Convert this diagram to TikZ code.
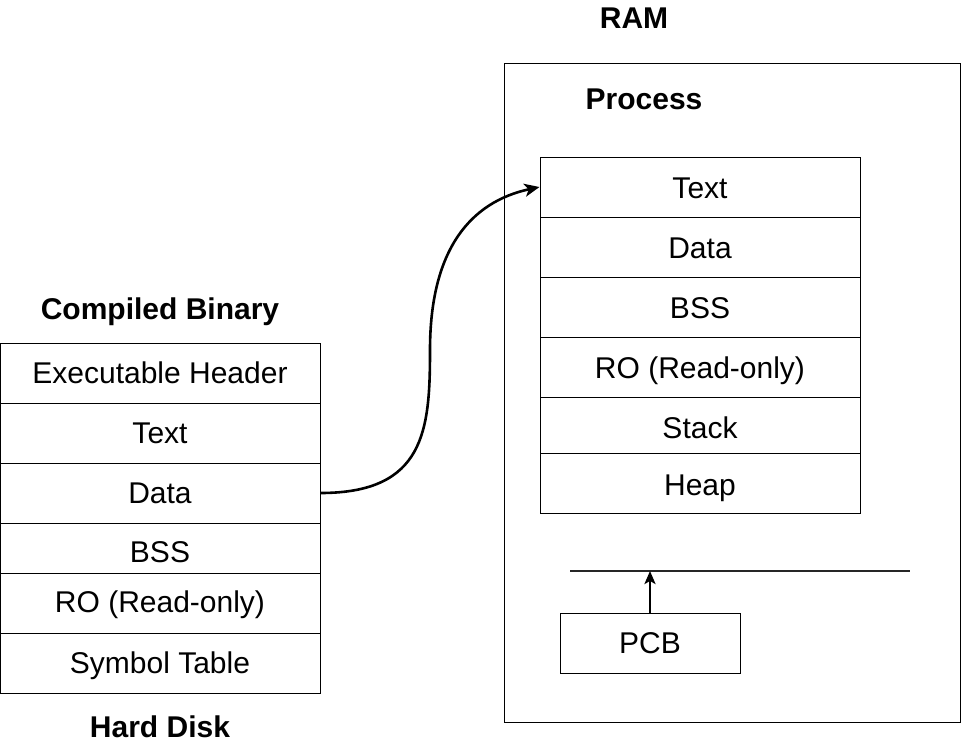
\documentclass[tikz,border=0pt]{standalone}
\usepackage{fontspec}
\setmainfont{Liberation Sans}
\usetikzlibrary{arrows.meta}
\begin{document}
\begin{tikzpicture}[x=1pt,y=-1pt,
  txt/.style={inner sep=0pt,text height=21.5pt,text depth=0pt,font=\fontsize{30}{34}\selectfont},
  ttl/.style={txt,font=\fontsize{30}{34}\selectfont\bfseries},
  cellL/.style={txt,draw,line width=1pt,minimum width=320pt},
  cellR/.style={txt,draw,line width=1pt,minimum width=320pt,text height=23.5pt},
  frame/.style={draw,line width=1pt,inner sep=0pt},
  conn/.style={line width=2.6pt,-{Stealth[length=15pt,width=13pt,inset=4pt]}}]
\useasboundingbox (0,0) rectangle (962,747);
% left column
\node[ttl] (cbt) at (160,309) {Compiled Binary};
\node[cellL,minimum height=60pt] (l1) at (160,373) {Executable Header};
\node[cellL,minimum height=60pt] (l2) at (160,433) {Text};
\node[cellL,minimum height=60pt] (l3) at (160,493) {Data};
\node[cellL,minimum height=50pt,text height=29.5pt] (l4) at (160,548) {BSS};
\node[cellL,minimum height=60pt,text depth=3pt] (l5) at (160,603) {RO (Read-only)};
\node[cellL,minimum height=60pt] (l6) at (160,663) {Symbol Table};
\node[ttl] (hd) at (160,727) {Hard Disk};
% RAM
\node[ttl] (ramt) at (634,18) {RAM};
\node[frame,minimum width=456pt,minimum height=659pt] (ram) at (732,392.5) {};
\node[ttl] (proct) at (644,99) {Process};
\node[cellR,minimum height=60pt] (r1) at (700,187) {Text};
\node[cellR,minimum height=60pt] (r2) at (700,247) {Data};
\node[cellR,minimum height=60pt] (r3) at (700,307) {BSS};
\node[cellR,minimum height=60pt] (r4) at (700,367) {RO (Read-only)};
\node[cellR,minimum height=56pt,text height=26.5pt] (r5) at (700,425) {Stack};
\node[cellR,minimum height=60pt,text height=25.5pt] (r6) at (700,483) {Heap};
% bar and PCB
\coordinate (barL) at (570,571);
\coordinate (barR) at (910,571);
\coordinate (barM) at (650,571);
\draw[line width=2.8pt,black!85] (barL) -- (barR);
\node[txt,draw,line width=1pt,minimum width=180pt,minimum height=60pt] (pcb) at (650,643) {PCB};
\draw[line width=2.4pt,-{Stealth[length=13pt,width=11pt,inset=3pt]}] (pcb.north) -- (barM);
% curved connector
\coordinate (mid) at (430,350);
\draw[conn] (l3.east) .. controls (425,493) and (430,430) .. (mid)
  .. controls (430,250) and (470,202) .. (r1.west);
\end{tikzpicture}
\end{document}
